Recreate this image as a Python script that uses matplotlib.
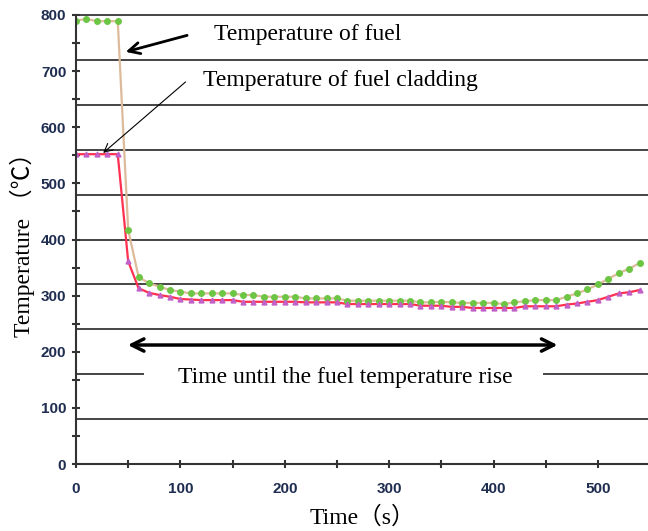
import numpy as np
import matplotlib
matplotlib.use("Agg")
import matplotlib.pyplot as plt
from matplotlib.ticker import MultipleLocator

# time (s), one reading every 10 s
t = np.arange(0, 541, 10)

fuel = [790, 793, 789, 789, 789, 417, 333, 322, 316, 310,
        307, 304, 304, 304, 304, 304, 301, 301, 298, 298,
        298, 298, 295, 295, 295, 295, 291, 291, 291, 291,
        291, 291, 291, 288, 288, 289, 288, 287, 287, 287,
        287, 285, 288, 290, 292, 292, 292, 298, 304, 311,
        320, 330, 340, 348, 358]

clad = [552, 552, 552, 552, 552, 361, 313, 305, 301, 298,
        294, 293, 292, 292, 292, 292, 289, 289, 289, 289,
        289, 289, 288, 288, 288, 288, 285, 285, 285, 285,
        285, 285, 285, 282, 282, 282, 280, 280, 278, 278,
        278, 278, 278, 281, 281, 281, 281, 284, 286, 289,
        292, 298, 304, 306, 310]

grid_levels = [80, 160, 240, 320, 400, 480, 560, 640, 720, 800]

serif = ['Liberation Serif', 'Noto Sans CJK JP', 'DejaVu Sans']

fig = plt.figure(figsize=(6.48, 5.31), dpi=100)
ax = fig.add_axes([76/648, 1 - 464/531, 1 - 76/648, (464 - 15)/531])

for g in grid_levels:
    if g == 160:
        # the label box cuts this one
        ax.axhline(g, xmin=0, xmax=0.117, color='#444444', lw=1.4, zorder=1)
        ax.axhline(g, xmin=0.818, xmax=1, color='#444444', lw=1.4, zorder=1)
    else:
        ax.axhline(g, color='#444444', lw=1.4, zorder=1, clip_on=False)

ax.plot(t, fuel, color='#DDBB9A', lw=1.6, zorder=3)
ax.plot(t, fuel, 'o', color='#6CC644', ms=4, zorder=4)
ax.plot(t, clad, color='#FF3050', lw=1.6, zorder=3)
ax.plot(t, clad, '^', color='#C060C8', ms=3.5, zorder=4)

ax.set_xlim(0, 548)
ax.set_ylim(0, 800)

for s in ['top', 'right']:
    ax.spines[s].set_visible(False)
for s in ['left', 'bottom']:
    ax.spines[s].set_color('#333333')
    ax.spines[s].set_linewidth(1.5)
    ax.spines[s].set_zorder(5)

ax.xaxis.set_major_locator(MultipleLocator(100))
ax.xaxis.set_minor_locator(MultipleLocator(50))
ax.yaxis.set_major_locator(MultipleLocator(100))
ax.yaxis.set_minor_locator(MultipleLocator(50))
ax.tick_params(which='both', direction='inout', length=6, width=1.5, color='#333333')
ax.tick_params(which='minor', labelleft=False, labelbottom=False)
ax.tick_params(axis='y', pad=4)
ax.tick_params(axis='x', pad=10)
for lab in ax.get_xticklabels() + ax.get_yticklabels():
    lab.set_fontfamily('Liberation Sans')
    lab.set_fontweight('bold')
    lab.set_fontsize(11)
    lab.set_color('#1F2D50')

ax.set_xlabel('Time（s）', family=serif, fontsize=17, labelpad=7)
ax.set_ylabel('Temperature （℃）', family=serif, fontsize=17, labelpad=4)

# annotations
ax.annotate('', xy=(45, 733), xytext=(109, 765),
            arrowprops=dict(arrowstyle='->', color='black', lw=2, mutation_scale=20))
ax.text(132, 765, 'Temperature of fuel', family=serif, fontsize=17, va='center')

ax.annotate('', xy=(24, 551), xytext=(107, 684),
            arrowprops=dict(arrowstyle='->', color='black', lw=0.8, mutation_scale=15))
ax.text(122, 684, 'Temperature of fuel cladding', family=serif, fontsize=17, va='center')

ax.annotate('', xy=(47, 212), xytext=(464, 212),
            arrowprops=dict(arrowstyle='<->', color='black', lw=2.5, mutation_scale=22))
ax.text(258, 155, 'Time until the fuel temperature rise', family=serif,
        fontsize=17, ha='center', va='center')

fig.savefig('out.png', dpi=100)
